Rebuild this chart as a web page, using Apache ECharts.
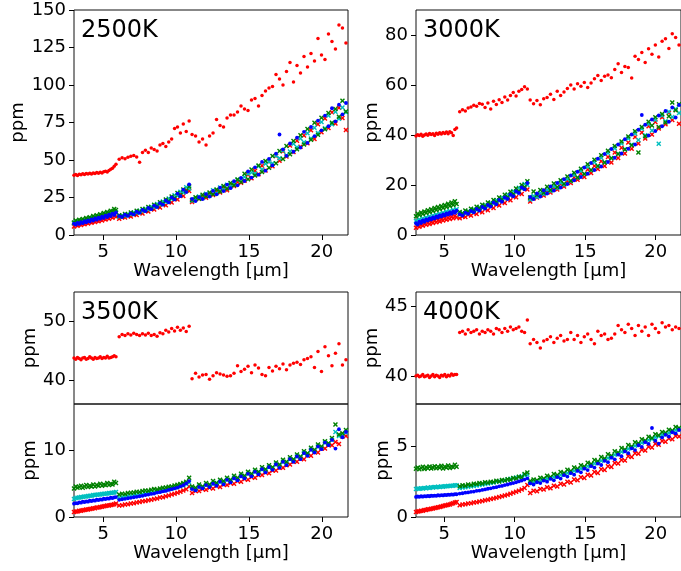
<!DOCTYPE html>
<html>
<head>
<meta charset="utf-8">
<script src="https://cdn.jsdelivr.net/npm/echarts@6/dist/echarts.min.js"></script>
<style>html,body{margin:0;padding:0;background:#fff;}#c{width:681px;height:571px;}</style>
</head>
<body>
<div id="c"></div>
<script>
// ---- wavelength grid (μm) ----
const wlA = [3.00,3.12,3.24,3.36,3.48,3.60,3.72,3.84,3.96,4.08,4.20,4.32,4.44,4.56,4.68,4.80,4.92,5.04,5.16,5.28,5.40,5.52,5.64,5.76,5.88];
const wlB = [6.10,6.30,6.50,6.70,6.90,7.10,7.30,7.50,7.70,7.90,8.10,8.30,8.50,8.70,8.90,9.10,9.30,9.50,9.70,9.90,10.10,10.30,10.50,10.70,10.90];
const wlC = [11.10,11.34,11.58,11.82,12.06,12.30,12.54,12.78,13.02,13.26,13.50,13.74,13.98,14.22,14.46,14.70,14.94,15.18,15.42,15.66,15.90,16.14,16.38,16.62,16.86,17.10,17.34,17.58,17.82,18.06,18.30,18.54,18.78,19.02,19.26,19.50,19.74,19.98,20.22,20.46,20.70,20.94,21.18,21.42,21.66];

// ---- tick labels ----
const xTicks = [5,10,15,20];
const yTicks2500 = [0,25,50,75,100,125,150];
const yTicks3000 = [0,20,40,60,80];
const yTicks3500top = [40,50];
const yTicks3500bot = [0,10];
const yTicks4000top = [40,45];
const yTicks4000bot = [0,5];
const panelLabels = ['2500K','3000K','3500K','4000K'];

// ---- 2500K ----
const hi2500 = [39.8,40.3,39.6,40.5,40.1,40.8,40.4,41.0,40.6,41.2,40.7,41.3,41.0,41.6,41.1,41.8,41.4,42.1,42.5,42.0,43.0,43.8,44.5,45.8,47.2,
 50.5,51.5,50.8,51.8,52.5,53.0,52.0,48.5,55.0,56.5,55.0,58.0,57.0,56.0,60.0,61.0,59.0,62.0,64.0,71.0,72.0,68.0,74.0,69.0,76.0,
 67,66,62,64,60,66,68,77,73,72,78,80,80,82,86,84,83,90,91,86,93,96,98,99,107,104,100,109,115,102,113,108,119,112,121,116,131,120,117,134,129,124,140,138,128];
const red2500 = [5.6,6.6,6.2,7.2,6.7,7.6,7.1,8.2,7.6,8.7,8.1,9.2,8.7,9.7,9.2,10.3,9.7,10.9,10.3,11.5,10.9,12.1,11.5,12.8,12.2,
 10.8,11.9,11.6,12.8,12.4,13.9,13.3,15.1,14.4,16.3,15.6,17.6,17.0,19.2,18.3,20.9,19.8,22.7,21.6,24.8,23.6,27.2,26.0,30.0,29.4,
 22.0,23.8,24.2,25.6,24.8,27.4,26.6,29.2,28.4,31.3,29.8,33.4,32.6,35.3,34.8,36.2,40.1,37.8,42.9,40.5,46.2,43.0,48.9,45.8,52.7,49.5,55.8,52.4,59.6,55.3,62.8,58.9,66.4,61.2,69.8,64.0,73.9,68.5,77.6,71.4,81.8,74.3,84.9,78.0,70.0];
const blue2500 = [7.6,6.9,8.1,7.4,8.6,7.9,9.2,8.5,9.8,9.0,10.4,9.6,11.0,10.2,11.6,10.8,12.2,11.4,12.9,12.0,13.6,12.6,14.3,13.4,15.0,
 12.6,12.0,13.5,12.8,14.4,13.7,15.5,14.8,16.7,15.9,18.0,17.2,19.6,18.6,21.2,20.2,23.0,21.8,25.1,23.7,27.6,25.9,30.2,28.6,33.8,
 24.1,22.6,25.2,24.0,27.3,25.6,29.4,27.1,31.5,29.3,33.6,31.2,35.9,33.1,38.0,36.0,42.4,38.3,45.1,40.2,48.7,42.9,50.8,46.4,54.3,67.0,57.1,52.8,61.0,55.5,64.9,58.3,68.8,61.4,72.0,65.9,76.2,69.8,79.6,72.5,84.5,75.8,86.9,80.4,88.0];
const green2500 = [8.4,9.6,8.9,10.1,9.5,10.7,10.0,11.3,10.7,11.9,11.2,12.6,11.9,13.2,12.5,13.9,13.2,14.6,14.0,15.4,14.7,16.2,15.5,17.4,16.6,
 13.2,12.7,14.0,13.5,15.0,14.4,16.1,15.4,17.3,16.6,18.6,17.9,20.1,19.3,21.8,20.8,23.7,22.6,25.7,24.5,28.0,26.6,30.4,29.3,32.4,
 23.3,25.1,24.2,26.8,25.9,28.4,27.2,30.3,29.0,32.6,31.0,34.7,33.2,37.0,35.4,40.8,37.2,43.6,39.6,46.3,42.0,49.4,44.8,52.6,47.9,56.0,50.6,59.4,53.8,62.7,57.2,66.5,60.4,70.6,63.5,74.8,66.9,78.2,70.5,81.4,74.9,84.0,78.8,89.5,82.4];
const cyan2500 = [7.8,8.6,8.3,9.2,8.8,9.7,9.3,10.3,9.9,10.9,10.5,11.5,11.1,12.2,11.7,12.8,12.4,13.5,13.0,14.2,13.8,14.9,14.5,15.9,15.2,
 12.2,13.0,12.9,13.9,13.8,15.0,14.8,16.2,16.0,17.5,17.2,18.9,18.7,20.6,20.3,22.4,22.0,24.4,24.0,26.5,26.1,28.8,28.4,31.8,31.0,
 22.8,24.2,25.6,24.6,27.5,26.2,29.9,27.8,31.7,30.4,33.5,32.8,34.3,36.8,37.1,38.6,40.9,41.7,41.0,45.9,43.7,47.5,48.8,47.6,52.9,51.2,56.4,53.1,55.6,60.9,58.5,64.3,61.9,67.8,64.4,71.5,68.0,75.3,71.2,79.6,73.8,82.1,77.5,85.0,81.9];

// ---- 3000K ----
const hi3000 = [39.6,40.1,39.8,40.3,39.5,40.0,40.4,39.9,40.6,40.2,40.5,39.8,40.7,40.3,40.9,40.4,41.0,40.6,41.2,40.5,41.3,40.9,39.8,42.2,42.8,
 49.3,50.1,49.6,50.8,51.2,51.9,51.5,52.6,52.3,51.0,52.8,50.4,53.5,52.2,54.1,53.0,55.2,54.0,55.8,57.0,55.6,57.5,58.2,59.3,58.4,
 54.0,52.5,53.8,52.1,54.5,55.0,56.3,54.2,57.5,55.8,57.2,58.6,60.0,58.4,60.5,59.5,61.0,59.0,60.8,62.5,63.8,61.8,63.5,64.0,62.9,66.2,68.5,65.0,67.4,67.0,62.8,71.5,70.2,73.0,69.0,74.5,72.3,76.0,71.2,77.5,78.5,74.6,80.5,79.0,76.0];
const red3000 = [2.9,3.6,3.3,4.1,3.7,4.5,4.1,4.8,4.4,5.2,4.8,5.6,5.1,5.9,5.4,6.3,5.8,6.6,6.1,6.9,6.4,7.3,6.7,7.6,7.1,
 6.7,7.4,7.2,8.1,7.8,8.8,8.4,9.6,9.1,10.5,9.9,11.4,10.8,12.4,11.8,13.4,12.8,14.6,13.9,15.8,15.1,17.2,16.4,18.8,18.2,
 13.4,14.6,15.0,16.2,15.8,17.6,17.0,19.0,18.2,20.4,19.4,21.6,20.8,23.0,22.1,24.6,23.2,26.2,24.8,27.6,26.4,29.5,27.6,31.2,29.0,33.0,30.8,34.9,32.6,37.0,34.5,39.2,36.6,41.0,38.6,43.5,40.2,45.2,42.6,47.1,44.3,48.9,46.0,50.1,44.5];
const blue3000 = [4.7,4.2,5.3,4.8,5.8,5.3,6.2,5.8,6.6,6.2,7.0,6.6,7.4,7.0,7.8,7.4,8.2,7.8,8.6,8.2,9.0,8.5,9.4,8.9,9.7,
 8.3,7.8,8.9,8.5,9.6,9.1,10.4,9.8,11.2,10.6,12.0,11.4,13.0,12.3,14.0,13.3,15.0,14.4,16.2,15.5,17.5,16.8,19.0,18.3,20.8,
 15.2,14.4,16.6,15.4,17.9,16.6,19.4,17.8,20.8,19.0,22.3,20.4,23.8,21.9,25.3,23.2,27.0,24.5,28.8,26.0,30.5,27.4,32.4,29.2,34.4,30.9,36.2,32.6,38.3,34.5,40.2,36.2,42.1,48.0,44.1,39.8,46.2,41.6,47.8,43.5,49.6,45.3,51.0,47.0,52.0];
const green3000 = [7.5,8.5,8.0,9.0,8.4,9.4,8.8,9.9,9.2,10.3,9.6,10.8,10.0,11.2,10.4,11.6,10.8,12.0,11.2,12.5,11.6,13.0,12.0,13.5,12.4,
 9.2,8.6,9.8,9.3,10.5,10.0,11.3,10.7,12.1,11.5,13.0,12.3,14.0,13.2,15.0,14.2,16.1,15.2,17.3,16.4,18.6,17.6,20.0,19.2,21.5,
 15.0,17.4,16.0,18.0,16.9,19.3,18.0,20.6,19.2,21.9,20.5,23.4,21.7,24.9,23.0,26.5,24.4,28.3,26.0,30.1,27.6,31.9,29.0,33.7,30.7,35.6,32.4,37.4,34.2,39.4,35.9,41.5,33.0,43.2,39.5,45.3,43.8,47.1,43.2,48.4,45.0,47.5,53.0,49.9,52.3];
const cyan3000 = [5.6,5.2,6.2,5.8,6.6,6.2,7.0,6.6,7.4,7.0,7.8,7.4,8.1,7.8,8.5,8.1,8.9,8.5,9.3,8.9,9.6,9.2,10.0,9.6,10.3,
 8.2,8.8,8.7,9.5,9.3,10.3,10.0,11.1,10.8,12.0,11.6,12.9,12.6,13.9,13.6,15.0,14.6,16.2,15.8,17.5,17.1,18.9,18.6,20.4,20.0,
 14.2,15.6,15.2,16.8,16.4,18.1,17.6,19.5,18.8,20.9,20.1,22.4,21.5,24.0,22.9,25.6,24.4,27.3,25.9,29.1,27.5,30.9,29.1,32.8,30.8,34.7,32.5,36.6,34.3,38.6,36.1,40.6,38.0,42.5,39.9,44.4,41.8,46.1,36.5,47.8,45.5,49.3,47.2,50.4,48.8];

// ---- 3500K ----
const hi3500 = [43.8,43.6,43.9,43.7,43.5,43.8,43.9,43.6,43.7,44.0,43.8,43.6,43.9,43.7,43.8,44.0,43.7,43.9,43.8,44.1,43.8,43.9,44.0,44.2,44.0,
 47.4,47.8,47.6,47.9,47.7,48.0,47.8,47.6,47.9,47.7,48.0,47.6,47.8,47.5,48.1,47.9,48.5,48.2,48.8,48.4,49.0,48.5,48.9,48.3,49.2,
 40.3,41.2,40.6,40.9,41.0,40.2,40.8,41.3,41.1,40.9,40.7,40.8,41.2,42.5,41.5,41.9,42.4,41.3,42.6,42.1,41.0,40.8,42.2,41.6,42.4,42.0,42.8,41.8,42.6,42.9,43.1,42.7,43.5,43.7,44.0,42.2,44.9,41.5,45.7,44.2,42.5,44.6,46.2,42.6,43.5];
const red3500 = [0.74,0.82,0.84,0.93,0.95,1.02,1.04,1.12,1.13,1.21,1.24,1.31,1.33,1.42,1.44,1.52,1.53,1.62,1.64,1.72,1.74,1.82,1.85,1.93,2.02,
 1.72,1.78,1.88,1.93,2.03,2.08,2.17,2.24,2.36,2.42,2.53,2.60,2.72,2.79,2.92,2.99,3.12,3.22,3.37,3.48,3.66,3.78,3.97,4.18,4.60,
 3.6,3.9,3.9,4.2,4.1,4.4,4.3,4.7,4.5,4.9,4.8,5.1,5.0,5.4,5.3,5.7,5.6,6.0,5.9,6.3,6.3,6.7,6.6,7.0,7.0,7.4,7.4,7.8,7.9,8.3,8.3,8.8,8.7,9.3,9.2,9.8,9.7,10.3,10.3,10.8,10.8,11.3,11.0,12.1,12.2];
const blue3500 = [2.0,2.1,2.05,2.2,2.15,2.3,2.25,2.35,2.3,2.45,2.4,2.5,2.45,2.6,2.55,2.65,2.6,2.75,2.7,2.8,2.75,2.9,2.85,2.95,3.0,
 2.58,2.67,2.73,2.82,2.88,2.97,3.03,3.12,3.18,3.31,3.38,3.47,3.53,3.67,3.73,3.87,3.93,4.07,4.18,4.32,4.43,4.62,4.78,5.05,5.4,
 4.2,4.0,4.5,4.3,4.8,4.5,5.0,4.7,5.3,4.9,5.6,5.2,5.8,5.5,6.1,5.8,6.5,6.1,6.8,6.4,7.2,6.7,7.5,7.1,7.9,7.4,8.3,7.8,8.7,8.3,9.1,8.7,9.6,9.2,10.1,9.7,10.6,10.2,11.2,10.8,11.6,10.3,13.2,12.0,12.8];
const green3500 = [4.3,4.6,4.4,4.5,4.7,4.4,4.6,4.8,4.5,4.7,4.6,4.9,4.6,4.8,4.7,5.0,4.7,4.9,4.8,5.1,4.8,5.0,4.9,5.3,5.1,
 3.4,3.5,3.45,3.6,3.65,3.7,3.8,3.75,3.9,4.0,3.95,4.1,4.2,4.15,4.3,4.4,4.45,4.55,4.6,4.75,4.85,4.95,5.1,5.3,5.9,
 4.6,4.4,4.9,4.6,5.1,4.9,5.4,5.1,5.6,5.4,5.9,5.6,6.2,5.9,6.5,6.2,6.8,6.5,7.1,6.8,7.5,7.2,7.8,7.5,8.2,7.9,8.6,8.3,9.0,8.7,9.4,9.1,9.9,9.6,10.4,10.1,10.9,10.6,11.4,11.1,11.9,13.9,12.4,12.6,13.1];
const cyan3500 = [2.7,2.85,2.9,2.95,3.0,3.0,3.1,3.1,3.15,3.2,3.2,3.3,3.3,3.35,3.4,3.4,3.45,3.5,3.5,3.55,3.6,3.6,3.65,3.7,3.75,
 2.95,3.02,3.08,3.15,3.2,3.27,3.33,3.4,3.47,3.55,3.6,3.7,3.76,3.85,3.92,4.0,4.1,4.18,4.3,4.4,4.5,4.62,4.78,4.95,5.2,
 4.4,4.2,4.6,4.5,4.8,4.8,5.0,5.1,5.3,5.2,5.6,5.4,5.9,5.7,6.2,6.0,6.5,6.3,6.8,6.7,7.1,7.0,7.5,7.3,7.9,7.7,8.3,8.1,8.7,8.5,9.1,9.0,9.6,9.4,10.1,9.9,10.6,10.4,11.2,11.0,11.6,12.8,12.2,12.3,12.7];

// ---- 4000K ----
const hi4000 = [40.0,40.05,39.95,40.0,40.1,39.95,40.0,40.05,39.9,40.0,40.1,39.95,40.05,40.0,39.9,40.05,40.0,40.1,39.95,40.05,40.0,40.15,40.05,40.1,40.1,
 43.1,43.2,43.0,43.3,43.1,43.2,43.3,43.0,43.2,43.1,43.3,43.2,43.0,43.4,43.3,43.1,43.4,43.2,43.5,43.3,43.4,43.5,43.2,43.1,44.0,
 42.3,42.6,42.4,42.0,42.5,42.6,42.8,42.4,42.7,42.9,42.5,42.6,43.1,42.6,42.9,42.4,42.8,43.0,42.6,42.3,43.2,42.9,43.0,42.6,42.7,43.0,43.6,43.3,43.1,43.7,43.4,42.9,43.6,43.2,43.5,42.9,43.7,43.4,43.1,43.8,43.5,43.6,43.3,43.5,43.4];
const red4000 = [0.35,0.39,0.40,0.44,0.45,0.49,0.50,0.54,0.55,0.59,0.60,0.64,0.66,0.69,0.71,0.75,0.77,0.81,0.83,0.87,0.89,0.94,0.97,1.02,1.06,
 0.84,0.88,0.90,0.95,0.98,1.02,1.05,1.10,1.13,1.18,1.22,1.27,1.31,1.36,1.41,1.47,1.52,1.58,1.64,1.71,1.78,1.86,1.95,2.06,2.26,
 1.70,1.86,1.82,1.98,1.94,2.10,2.04,2.22,2.16,2.36,2.30,2.50,2.44,2.66,2.60,2.82,2.76,3.00,2.94,3.18,3.12,3.38,3.32,3.60,3.54,3.82,3.78,4.04,4.00,4.30,4.24,4.52,4.48,4.76,4.70,4.98,4.92,5.18,5.12,5.38,5.32,5.56,5.50,5.74,5.70];
const blue4000 = [1.42,1.45,1.43,1.47,1.44,1.48,1.46,1.50,1.47,1.51,1.49,1.52,1.50,1.54,1.52,1.55,1.53,1.57,1.55,1.58,1.57,1.60,1.58,1.62,1.61,
 1.66,1.68,1.72,1.74,1.78,1.80,1.85,1.87,1.92,1.95,2.00,2.03,2.08,2.11,2.17,2.20,2.26,2.30,2.36,2.40,2.46,2.52,2.58,2.65,2.74,
 2.38,2.30,2.46,2.40,2.58,2.50,2.70,2.60,2.82,2.72,2.96,2.86,3.10,3.00,3.26,3.16,3.42,3.32,3.60,3.50,3.78,3.68,3.98,3.88,4.20,4.08,4.42,4.30,4.64,4.52,4.86,4.74,5.08,4.96,5.30,5.18,6.30,5.40,5.20,5.62,5.82,5.70,6.00,5.92,6.16];
const green4000 = [3.42,3.50,3.38,3.47,3.55,3.40,3.52,3.45,3.58,3.43,3.50,3.60,3.46,3.55,3.48,3.62,3.44,3.56,3.51,3.65,3.47,3.58,3.53,3.70,3.55,
 2.18,2.25,2.22,2.30,2.27,2.35,2.33,2.40,2.37,2.46,2.42,2.50,2.48,2.56,2.52,2.62,2.58,2.68,2.64,2.76,2.72,2.85,2.80,3.05,3.15,
 2.54,2.66,2.60,2.78,2.72,2.92,2.84,3.04,2.98,3.18,3.12,3.34,3.26,3.50,3.42,3.66,3.58,3.84,3.76,4.04,3.94,4.24,4.14,4.44,4.34,4.66,4.56,4.88,4.78,5.10,5.00,5.30,5.22,5.50,5.42,5.68,5.60,5.86,5.78,6.02,5.96,6.18,6.12,6.38,6.30];
const cyan4000 = [1.98,2.01,2.00,2.04,2.02,2.06,2.04,2.08,2.06,2.10,2.08,2.12,2.10,2.14,2.12,2.16,2.14,2.18,2.17,2.20,2.19,2.22,2.21,2.25,2.24,
 2.05,2.08,2.11,2.14,2.17,2.20,2.23,2.27,2.30,2.34,2.37,2.41,2.45,2.49,2.53,2.57,2.61,2.65,2.70,2.74,2.79,2.84,2.89,2.95,3.00,
 2.45,2.50,2.53,2.60,2.64,2.72,2.75,2.84,2.88,2.97,3.02,3.12,3.16,3.27,3.32,3.43,3.48,3.60,3.66,3.79,3.85,3.98,4.05,4.18,4.26,4.40,4.48,4.62,4.70,4.84,4.92,5.05,5.13,5.26,5.34,5.46,5.53,5.64,5.72,5.82,5.88,5.97,6.05,6.16,6.25];

// ---------------------------------------------------------------
const wl = wlA.concat(wlB, wlC);
const pts = ys => ys.map((y, i) => [wl[i], y]);
const FONT = 'DejaVu Sans';
const XSYM = 'path://M0,2L2,0L5,3L8,0L10,2L7,5L10,8L8,10L5,7L2,10L0,8L3,5Z';

const grids = [
  {left: 74,  top: 10,  width: 274, height: 225},
  {left: 416, top: 10,  width: 274, height: 225},
  {left: 74,  top: 292, width: 274, height: 112},
  {left: 74,  top: 404, width: 274, height: 113},
  {left: 416, top: 292, width: 274, height: 112},
  {left: 416, top: 404, width: 274, height: 113}
].map(g => Object.assign(g, {show: true, borderColor: '#111', borderWidth: 1, backgroundColor: 'transparent'}));

function xAx(gi, show) {
  return {
    type: 'value', gridIndex: gi, min: 3, max: 21.8,
    axisLine: {show: false},
    axisTick: {show: show, customValues: xTicks, length: 5, lineStyle: {color: '#000', width: 1}},
    axisLabel: {show: show, customValues: xTicks, margin: 8, color: '#000', fontSize: 18, fontFamily: FONT},
    splitLine: {show: false},
    name: show ? 'Wavelength [μm]' : '', nameLocation: 'middle', nameGap: 26,
    nameTextStyle: {color: '#000', fontSize: 18, fontFamily: FONT}
  };
}
function yAx(gi, min, max, ticks, gap) {
  return {
    type: 'value', gridIndex: gi, min: min, max: max,
    axisLine: {show: false},
    axisTick: {show: true, customValues: ticks, length: 5, lineStyle: {color: '#000', width: 1}},
    axisLabel: {customValues: ticks, margin: 8, color: '#000', fontSize: 18, fontFamily: FONT},
    splitLine: {show: false},
    name: 'ppm', nameLocation: 'middle', nameGap: gap,
    nameTextStyle: {color: '#000', fontSize: 18, fontFamily: FONT}
  };
}

function sc(gi, ys, color, symbol, size) {
  return {type: 'scatter', xAxisIndex: gi, yAxisIndex: gi, data: pts(ys), symbol: symbol,
          symbolSize: size, itemStyle: {color: color, opacity: 1}, silent: true, clip: true};
}
function lowSet(gi, r, c, g, b) {
  return [sc(gi, r, '#ff0000', XSYM, 5), sc(gi, c, '#00bfbf', XSYM, 5),
          sc(gi, g, '#008000', XSYM, 5), sc(gi, b, '#0000ff', 'circle', 3.8)];
}

const series = [].concat(
  [sc(0, hi2500, '#ff0000', 'circle', 3.5)], lowSet(0, red2500, cyan2500, green2500, blue2500),
  [sc(1, hi3000, '#ff0000', 'circle', 3.5)], lowSet(1, red3000, cyan3000, green3000, blue3000),
  [sc(2, hi3500, '#ff0000', 'circle', 3.5)], lowSet(3, red3500, cyan3500, green3500, blue3500),
  [sc(4, hi4000, '#ff0000', 'circle', 3.5)], lowSet(5, red4000, cyan4000, green4000, blue4000)
);

function label(txt, left, top) {
  return {type: 'text', left: left, top: top, z: 100,
          style: {text: txt, font: '24px "DejaVu Sans"', fill: '#000'}};
}

const option = {
  animation: false,
  backgroundColor: '#fff',
  textStyle: {fontFamily: FONT},
  grid: grids,
  xAxis: [xAx(0, true), xAx(1, true), xAx(2, false), xAx(3, true), xAx(4, false), xAx(5, true)],
  yAxis: [
    yAx(0, 0, 150, yTicks2500, 45),
    yAx(1, 0, 90, yTicks3000, 35),
    yAx(2, 36, 55, yTicks3500top, 35),
    yAx(3, 0, 17, yTicks3500bot, 35),
    yAx(4, 38, 46, yTicks4000top, 35),
    yAx(5, 0, 8, yTicks4000bot, 22)
  ],
  series: series,
  graphic: [
    label(panelLabels[0], 81, 19),
    label(panelLabels[1], 423, 19),
    label(panelLabels[2], 81, 301),
    label(panelLabels[3], 423, 301)
  ]
};

const chart = echarts.init(document.getElementById('c'), null, {renderer: 'canvas'});
chart.setOption(option);
</script>
</body>
</html>
